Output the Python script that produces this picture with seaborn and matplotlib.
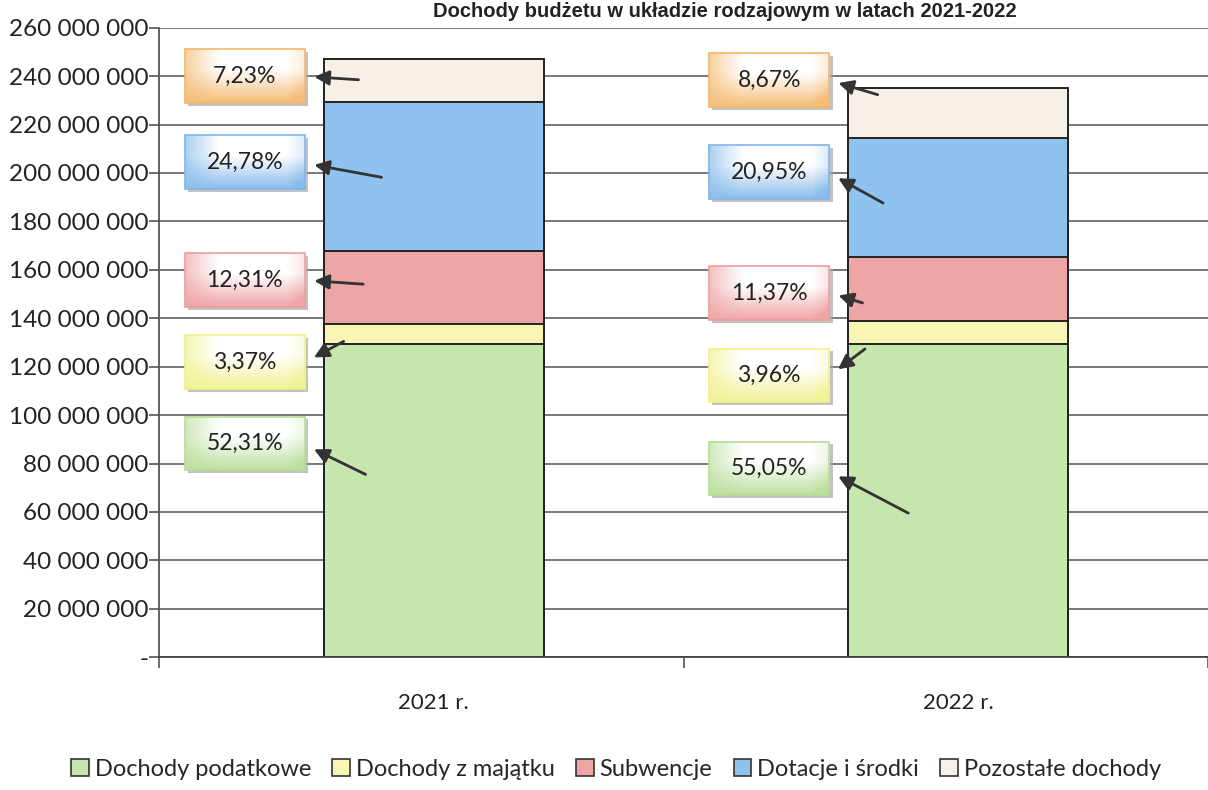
import numpy as np
import pandas as pd
import matplotlib
matplotlib.use("Agg")
import matplotlib.pyplot as plt
import seaborn as sns
from matplotlib.patches import Rectangle
from matplotlib.ticker import FuncFormatter, MultipleLocator

# values (PLN)
years = ["2021 r.", "2022 r."]
series = ["Dochody podatkowe", "Dochody z majątku", "Subwencje",
          "Dotacje i środki", "Pozostałe dochody"]
dochody_podatkowe = [129_200_000, 129_400_000]
dochody_z_majatku = [8_300_000, 9_300_000]
subwencje = [30_400_000, 26_700_000]
dotacje = [61_200_000, 49_200_000]
pozostale = [17_900_000, 20_400_000]
pct_2021 = ["52,31%", "3,37%", "12,31%", "24,78%", "7,23%"]
pct_2022 = ["55,05%", "3,96%", "11,37%", "20,95%", "8,67%"]

colors = ["#c5e6ad", "#f9f5b4", "#eda5a5", "#8fc3ef", "#f6f0e6"]
box_colors = ["#b6dd95", "#f0f08a", "#ee9d9d", "#7fb6ea", "#f4b66a"]

sns.set_theme(style="white")
plt.rcParams["font.family"] = ["Lato", "DejaVu Sans"]

df = pd.DataFrame({"rok": years,
                   series[0]: dochody_podatkowe,
                   series[1]: dochody_z_majatku,
                   series[2]: subwencje,
                   series[3]: dotacje,
                   series[4]: pozostale})
cum = df[series].cumsum(axis=1)

fig = plt.figure(figsize=(12.08, 7.9), dpi=100)
ax = fig.add_axes([0.132, 0.168, 0.868, 0.797])

# stacked bars: draw cumulative totals from the top down
for i in range(len(series) - 1, -1, -1):
    sns.barplot(x=df["rok"], y=cum[series[i]], color=colors[i], width=0.42,
                edgecolor="#222222", linewidth=1.4, saturation=1, ax=ax)

XL = (-0.523, 1.477)
ax.set_ylim(0, 260_000_000)
ax.set_xlim(*XL)
ax.yaxis.set_major_locator(MultipleLocator(20_000_000))
ax.yaxis.set_major_formatter(FuncFormatter(
    lambda v, p: "-" if v == 0 else f"{int(v):,}".replace(",", " ")))
ax.grid(axis="y", color="#6e6e6e", linewidth=1.3)
ax.set_axisbelow(True)
for s in ["top", "right"]:
    ax.spines[s].set_visible(False)
ax.spines["left"].set_color("#555555")
ax.spines["bottom"].set_color("#444444")
ax.spines["left"].set_linewidth(1.3)
ax.spines["bottom"].set_linewidth(1.3)
ax.tick_params(axis="y", left=True, length=7, width=1.2, color="#555555",
               labelsize=17.5, labelcolor="#222222", pad=1)
ax.set_xticks([0, 1])
ax.set_xticklabels(years)
ax.set_xticks([XL[0], 0.477, XL[1]], minor=True)
ax.tick_params(axis="x", which="major", length=0, labelsize=16,
               labelcolor="#222222", pad=26)
ax.tick_params(axis="x", which="minor", bottom=True, length=8, width=1.2,
               color="#555555")
ax.set_xlabel("")
ax.set_ylabel("")

# percentage boxes with arrows
M = 1_000_000
label_pos = {0: [(-0.360, 88.4 * M), (-0.360, 121.9 * M), (-0.360, 155.8 * M),
                 (-0.360, 204.5 * M), (-0.360, 240.0 * M)],
             1: [(0.640, 78.1 * M), (0.640, 116.5 * M), (0.640, 150.4 * M),
                 (0.640, 200.4 * M), (0.640, 238.4 * M)]}
arrow_tail = {0: [(-0.125, 75 * M), (-0.167, 131 * M), (-0.129, 154 * M),
                  (-0.094, 198 * M), (-0.138, 238.4 * M)],
              1: [(0.910, 59 * M), (0.827, 128 * M), (0.823, 146 * M),
                  (0.862, 187 * M), (0.852, 232 * M)]}
pcts = {0: pct_2021, 1: pct_2022}
bw, bh = 0.23, 22 * M

def gradient(c):
    # colour strongest in the lower-left corner, fading to white top-right
    rgb = np.array(matplotlib.colors.to_rgb(c))
    yy, xx = np.mgrid[0:1:40j, 0:1:80j]
    d = np.clip(1 - np.minimum(yy * 1.6, 1) * np.minimum(xx * 2.5 + 0.3, 1), 0, 1)
    e = np.clip((xx - 0.85) * 4, 0, 1) * 0.5
    w = np.clip(d + e, 0, 1)[..., None] * 0.9
    return 1 - w * (1 - rgb)

for yr in (0, 1):
    for k in range(len(series)):
        cx, cy = label_pos[yr][k]
        x0, y0 = cx - bw / 2, cy - bh / 2
        ax.add_patch(Rectangle((x0 + 0.006, y0 - 1.2 * M), bw, bh,
                               facecolor="#a8a8a8", edgecolor="none",
                               alpha=0.7, zorder=4))
        ax.imshow(gradient(box_colors[k]), extent=(x0, x0 + bw, y0, y0 + bh),
                  origin="lower", aspect="auto", zorder=5)
        ax.add_patch(Rectangle((x0, y0), bw, bh, facecolor="none",
                               edgecolor=box_colors[k], linewidth=1.2,
                               zorder=6))
        ax.text(cx, cy, pcts[yr][k], ha="center", va="center",
                fontsize=16.5, color="#222222", zorder=7)
        tx, ty = arrow_tail[yr][k]
        ax.annotate("", xy=(x0 + bw + 0.012, cy + (ty - cy) * 0.15),
                    xytext=(tx, ty),
                    arrowprops=dict(arrowstyle="-|>", color="#333333",
                                    lw=2, mutation_scale=22),
                    zorder=8)

ax.set_xlim(*XL)
ax.set_ylim(0, 260_000_000)

fig.text(0.6, 0.997, "Dochody budżetu w układzie rodzajowym w latach 2021-2022",
         ha="center", va="top", fontsize=14.5, fontweight="bold",
         family=["Liberation Sans", "DejaVu Sans"], color="#222222")

handles = [Rectangle((0, 0), 1, 1, facecolor=c, edgecolor="#333333",
                     linewidth=1.2) for c in colors]
fig.legend(handles, series, loc="center", bbox_to_anchor=(0.51, 0.026),
           ncol=5, frameon=False, fontsize=17, handlelength=0.75,
           handleheight=0.75, handletextpad=0.25, columnspacing=0.9)

fig.savefig("out.png", dpi=100)
